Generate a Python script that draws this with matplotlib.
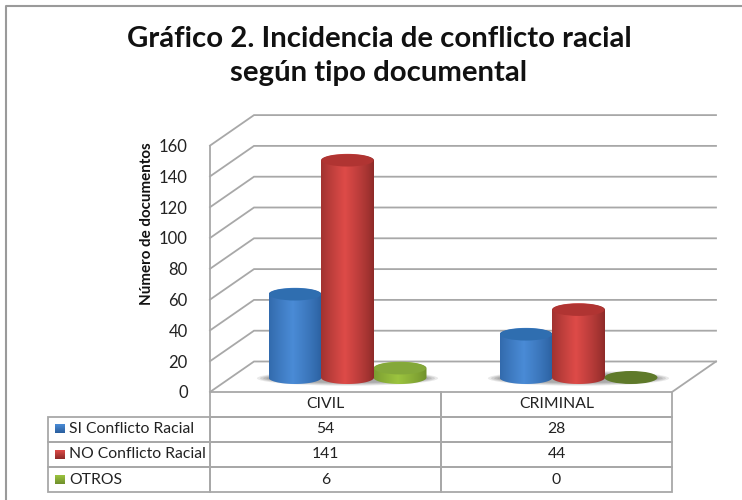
import numpy as np
import matplotlib
matplotlib.use("Agg")
import matplotlib.pyplot as plt
from matplotlib.colors import to_rgb
from matplotlib.lines import Line2D
from matplotlib.patches import Ellipse, PathPatch
from matplotlib.path import Path

categories = ["CIVIL", "CRIMINAL"]
series_names = ["SI Conflicto Racial", "NO Conflicto Racial", "OTROS"]
si_conflicto = [54, 28]
no_conflicto = [141, 44]
otros = [6, 0]
y_ticks = [0, 20, 40, 60, 80, 100, 120, 140, 160]
title_text = "Gráfico 2. Incidencia de conflicto racial\nsegún tipo documental"
y_label = "Número de documentos"

W, H = 742, 500
FONT = "Lato"
GRID = "#a8a8a8"
TEXT = "#222222"
series_values = [si_conflicto, no_conflicto, otros]
# dark edge, light centre, top ellipse
palette = [("#2a5f9e", "#4a8bd6", "#2f6eb0"),
           ("#8c2a28", "#de4b48", "#b03432"),
           ("#6f8f2c", "#9cc43f", "#84a83a")]

fig = plt.figure(figsize=(W / 100, H / 100), dpi=100)
L, R, B, T = 210, 672, 392, 145.6
ax = fig.add_axes([L / W, 1 - B / H, (R - L) / W, (B - T) / H])
ax.set_facecolor("none")
ax.set_xlim(-0.5, 1.5)
ax.set_ylim(0, 160)
px_x = (R - L) / 2.0
px_y = (B - T) / 160.0
depth_x = 44 / px_x
depth_y = 30.5 / px_y


def xd(p):
    return -0.5 + (p - L) / px_x


def yd(p):
    return (B - p) / px_y


# chart frame (open at the right and bottom)
fig.add_artist(Line2D([6 / W, 6 / W, 1], [0, 1 - 6 / H, 1 - 6 / H], color="#9a9a9a", lw=1.5,
                      transform=fig.transFigure))

# walls and floor
x0, x1 = -0.5, 1.5
for v in y_ticks:
    ax.plot([x0, x0 + depth_x, x1 + depth_x], [v, v + depth_y, v + depth_y],
            color=GRID, lw=1.3, clip_on=False, zorder=1, solid_joinstyle="miter")
ax.plot([x0, x0], [0, 160], color=GRID, lw=1.3, clip_on=False, zorder=1)
ax.plot([x1, x1 + depth_x], [0, depth_y], color=GRID, lw=1.3, clip_on=False, zorder=1)

# cylinders
rx = 26.5 / px_x
ry = 6.5 / px_y
spacing = 52.5 / px_x
base_y = 14.5 / px_y
t = np.linspace(0, np.pi, 60)
grad = np.linspace(0, 1, 128)
grad = 1 - np.abs(grad - 0.45) / 0.55
grad = grad ** 0.8

zbase = 3
for ci in range(len(categories)):
    cx = ci + depth_x / 2
    for k, (sw, sh, a) in enumerate([(1.22, 1.15, 0.18), (1.16, 1.0, 0.25), (1.10, 0.85, 0.3), (1.04, 0.72, 0.35)]):
        ax.add_patch(Ellipse((cx, base_y - 0.5), 2 * (rx + sw * spacing), 2 * ry * sh,
                             fc="#8a8a8a", ec="none", alpha=a, zorder=2, clip_on=False))
    for si, vals in enumerate(series_values):
        v = vals[ci]
        xc = cx + (si - 1) * spacing
        dark, light, top = palette[si]
        z = zbase + si
        if v > 0:
            xs = np.r_[xc - rx * np.cos(t), xc + rx * np.cos(t)]
            ys = np.r_[base_y - ry * np.sin(t), base_y + v + ry * np.sin(t)]
            img = np.array(to_rgb(dark)) + (np.array(to_rgb(light)) - np.array(to_rgb(dark))) * grad[:, None]
            im = ax.imshow(img[None, :, :], extent=(xc - rx, xc + rx, base_y - ry, base_y + v + ry),
                           aspect="auto", origin="lower", zorder=z, interpolation="bilinear")
            clip = PathPatch(Path(np.c_[xs, ys]), transform=ax.transData, fc="none", ec="none")
            ax.add_patch(clip)
            im.set_clip_path(clip)
            ax.add_patch(Ellipse((xc, base_y + v), 2 * rx * 0.98, 2 * ry * 0.95, fc=top, ec="none", zorder=z + 0.1,
                                 clip_on=False))
        else:
            ax.add_patch(Ellipse((xc, base_y), 2 * rx, 2 * ry, fc="#5f7a2a", ec="none", zorder=z, clip_on=False))

ax.set_xlim(-0.5, 1.5)
ax.set_ylim(0, 160)
ax.set_xticks([])
ax.set_yticks(y_ticks)
ax.set_yticklabels([str(v) for v in y_ticks], fontfamily=FONT, fontsize=12, color=TEXT)
ax.tick_params(axis="y", length=0, pad=16)
for s in ax.spines.values():
    s.set_visible(False)

# data table
tb, tt = 492, 392
rows = [["", categories[0], categories[1]]] + [[n, str(a), str(b)] for n, a, b in
                                               zip(series_names, *[[vals[i] for vals in series_values] for i in (0, 1)])]
col_w = [162 / 462, 0.5, 0.5]
row_h = [24.5 / 100, 25.5 / 100, 25 / 100, 25 / 100]
tbl = ax.table(cellText=rows, colWidths=col_w, cellLoc="center",
               bbox=[(48 - L) / (R - L), (B - tb) / (B - T), (R - 48) / (R - L), (tb - tt) / (B - T)])
tbl.auto_set_font_size(False)
for (r, c), cell in tbl.get_celld().items():
    cell.set_edgecolor(GRID)
    cell.set_linewidth(1.3)
    cell.set_facecolor("none")
    cell.set_height(row_h[r])
    cell.set_clip_on(False)
    cell.get_text().set_fontfamily(FONT)
    cell.get_text().set_fontsize(11.3)
    cell.get_text().set_color(TEXT)
    if r == 0 and c == 0:
        cell.visible_edges = ""
    if c == 0 and r > 0:
        cell.get_text().set_ha("left")
        cell.PAD = 21 / 162
        cell._loc = "left"

# legend keys inside the table
key_y = [428.5, 454, 479]
key_grad = np.linspace(0, 1, 32)[:, None]
for si, ky in enumerate(key_y):
    dark, light, top = palette[si]
    img = np.array(to_rgb(light)) + (np.array(to_rgb(dark)) - np.array(to_rgb(light))) * key_grad[:, :]
    ax.imshow(img[:, None, :], extent=(xd(54.5), xd(64), yd(ky + 4.5), yd(ky - 4.5)), aspect="auto",
              origin="upper", zorder=5, clip_on=False)
ax.set_xlim(-0.5, 1.5)
ax.set_ylim(0, 160)

fig.text(147 / W, 1 - 224 / H, y_label, rotation=90, ha="center", va="center", fontfamily=FONT,
         fontweight="bold", fontsize=10.9, color="#111111")
fig.text(379 / W, 1 - 56 / H, title_text, ha="center", va="center", fontfamily=FONT, fontweight="bold",
         fontsize=21.2, color="#111111", linespacing=1.42)

fig.savefig("out.png", dpi=100, facecolor="white")
